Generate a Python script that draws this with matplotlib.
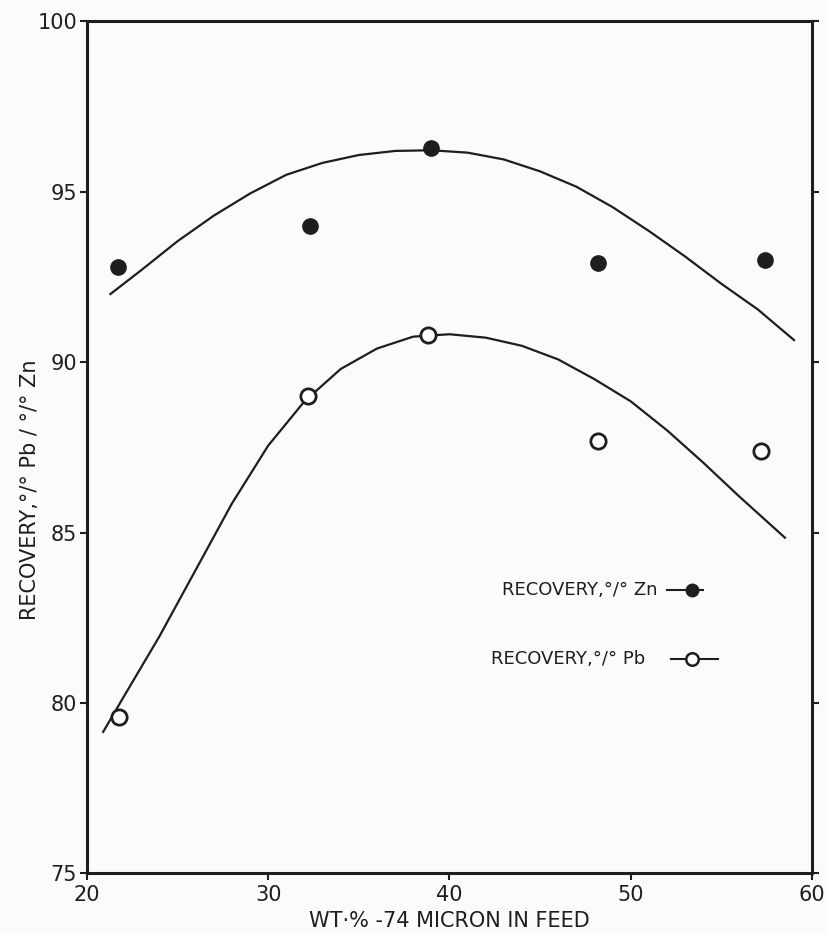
import numpy as np
import matplotlib.pyplot as plt

# measured points
zn_x = [21.7, 32.3, 39.0, 48.2, 57.4]
zn_y = [92.8, 94.0, 96.3, 92.9, 93.0]
pb_x = [21.8, 32.2, 38.8, 48.2, 57.2]
pb_y = [79.6, 89.0, 90.8, 87.7, 87.4]

# hand-drawn curves
zn_curve_x = [21.3, 23.0, 25.0, 27.0, 29.0, 31.0, 33.0, 35.0, 37.0, 39.0,
              41.0, 43.0, 45.0, 47.0, 49.0, 51.0, 53.0, 55.0, 57.0, 59.0]
zn_curve_y = [92.0, 92.7, 93.55, 94.3, 94.95, 95.5, 95.85, 96.08, 96.2, 96.22,
              96.15, 95.95, 95.6, 95.15, 94.55, 93.85, 93.1, 92.3, 91.55, 90.65]
pb_curve_x = [20.9, 22.0, 24.0, 26.0, 28.0, 30.0, 32.0, 34.0, 36.0, 38.0,
              40.0, 42.0, 44.0, 46.0, 48.0, 50.0, 52.0, 54.0, 56.0, 58.5]
pb_curve_y = [79.15, 80.15, 81.95, 83.9, 85.85, 87.55, 88.85, 89.8, 90.4, 90.75,
              90.82, 90.72, 90.48, 90.08, 89.5, 88.85, 88.0, 87.05, 86.05, 84.85]

xticks = [20, 30, 40, 50, 60]
yticks = [75, 80, 85, 90, 95, 100]

ink = '#1e1e1e'

fig = plt.figure(figsize=(8.27, 9.33), dpi=100)
fig.patch.set_facecolor('#fbfbfa')
ax = fig.add_axes([0.105, 0.064, 0.877, 0.913])
ax.set_facecolor('#fbfbfa')

ax.plot(zn_curve_x, zn_curve_y, color=ink, lw=1.6, solid_joinstyle='round')
ax.plot(pb_curve_x, pb_curve_y, color=ink, lw=1.6, solid_joinstyle='round')
ax.plot(zn_x, zn_y, 'o', color=ink, ms=11, ls='none')
ax.plot(pb_x, pb_y, 'o', mfc='white', mec=ink, mew=2, ms=11, ls='none')

ax.set_xlim(20, 60)
ax.set_ylim(75, 100)
ax.set_xticks(xticks)
ax.set_yticks(yticks)
for s in ax.spines.values():
    s.set_linewidth(2.2)
    s.set_color(ink)
ax.tick_params(axis='both', labelsize=15, colors=ink, width=1.5, length=5, direction='out')
ax.tick_params(axis='y', right=True, pad=2)

ax.set_xlabel('WT·% -74 MICRON IN FEED', fontsize=15, color=ink, labelpad=4)
fig.text(0.036, 0.475, 'RECOVERY,°/° Pb / °/° Zn', rotation=90, fontsize=15,
         color=ink, ha='center', va='center')

# legend drawn by hand
ax.text(42.9, 83.3, 'RECOVERY,°/° Zn', fontsize=13, color=ink, va='center')
ax.plot([52.0, 54.0], [83.3, 83.3], color=ink, lw=1.5)
ax.plot([53.4], [83.3], 'o', color=ink, ms=9)
ax.text(42.3, 81.3, 'RECOVERY,°/° Pb', fontsize=13, color=ink, va='center')
ax.plot([52.2, 54.8], [81.3, 81.3], color=ink, lw=1.5)
ax.plot([53.4], [81.3], 'o', mfc='white', mec=ink, mew=1.8, ms=9)

fig.savefig('out.png', dpi=100, facecolor=fig.get_facecolor())
